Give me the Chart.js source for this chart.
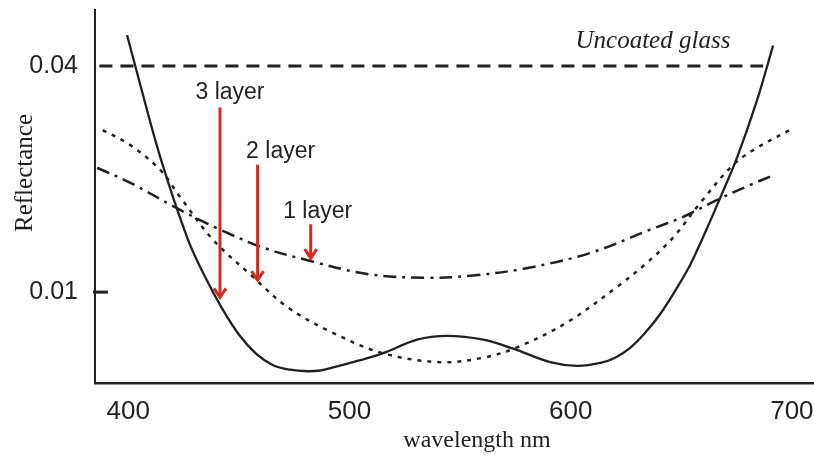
<!DOCTYPE html>
<html>
<head>
<meta charset="utf-8">
<script src="https://cdn.jsdelivr.net/npm/chart.js@4.4.1/dist/chart.umd.min.js"></script>
<style>
html, body { margin: 0; padding: 0; background: #fff; }
#wrap { width: 814px; height: 456px; }
</style>
</head>
<body>
<div id="wrap"><canvas id="c"></canvas></div>
<script>
// wavelength (nm) / reflectance readings
const wl3 = [399.5, 403.2, 414.5, 427.1, 434.8, 442.5, 450.2, 457.9, 465.5, 473.2, 480.9, 486.8, 492.7, 504, 515.3, 530.6, 544.2, 560.5, 574, 590.8, 603, 613.4, 620.1, 626.9, 633.7, 640.5, 647.3, 654, 660.8, 667.6, 675.3, 684.3, 691.5];
const r3  = [0.0441, 0.0400, 0.0279, 0.0169, 0.0120, 0.0078, 0.0043, 0.0018, 0.0003, -0.0003, -0.0005, -0.0004, 0.0000, 0.0009, 0.0019, 0.0037, 0.0042, 0.0037, 0.0025, 0.0007, 0.0002, 0.0006, 0.0013, 0.0026, 0.0046, 0.0071, 0.0102, 0.0136, 0.0179, 0.0225, 0.0279, 0.0355, 0.0427];

const wl2 = [388.5, 401, 414.5, 423.5, 438.5, 456.5, 472, 492.5, 515, 541, 560.5, 576, 598.5, 621, 634.5, 646.5, 658.5, 673.5, 684, 699];
const r2  = [0.0315, 0.0295, 0.0262, 0.0226, 0.0169, 0.0120, 0.0080, 0.0046, 0.0019, 0.0007, 0.0013, 0.0027, 0.0060, 0.0107, 0.0139, 0.0173, 0.0218, 0.0269, 0.0291, 0.0315];

const wl1 = [386, 401, 423.5, 441.5, 461, 481.5, 508, 535, 556, 580.5, 609, 636, 651, 666, 681, 692.5];
const r1  = [0.0265, 0.0245, 0.0209, 0.0183, 0.0159, 0.0142, 0.0124, 0.0119, 0.0122, 0.0132, 0.0152, 0.0183, 0.0200, 0.0222, 0.0242, 0.0256];

const wlGlass = [387, 687];
const rGlass  = [0.04, 0.04];

const xTicks = [400, 500, 600, 700];
const yTicks = [0.01, 0.04];

const arrowNames = ['3 layer', '2 layer', '1 layer'];
const arrowWl    = [441.5, 458.5, 482.5];
const arrowTop   = [0.0345, 0.0269, 0.0190];
const arrowTip   = [0.0093, 0.0116, 0.0145];

const INK = '#231f20';
const RED = '#d42a20';

function pts(xs, ys) {
    return xs.map((x, i) => ({x: x, y: ys[i]}));
}

// text offsets (px) of each arrow's label from the arrow top
const labelOff = [[10, -8], [23, -7], [7, -6]];

const extras = {
    id: 'extras',
    afterDatasetsDraw(chart) {
        const ctx = chart.ctx;
        const xs = chart.scales.x, ys = chart.scales.y;
        ctx.save();
        // arrows
        ctx.strokeStyle = RED;
        ctx.lineWidth = 3;
        ctx.lineCap = 'butt';
        for (let i = 0; i < arrowWl.length; i++) {
            const x = xs.getPixelForValue(arrowWl[i]);
            const y0 = ys.getPixelForValue(arrowTop[i]);
            const y1 = ys.getPixelForValue(arrowTip[i]);
            ctx.beginPath();
            ctx.moveTo(x, y0);
            ctx.lineTo(x, y1);
            ctx.stroke();
            ctx.beginPath();
            ctx.moveTo(x - 6, y1 - 9);
            ctx.lineTo(x, y1);
            ctx.lineTo(x + 6, y1 - 9);
            ctx.stroke();
            ctx.fillStyle = INK;
            ctx.font = '23px "Liberation Sans", Arial, sans-serif';
            ctx.textAlign = 'center';
            ctx.textBaseline = 'alphabetic';
            ctx.fillText(arrowNames[i], x + labelOff[i][0], y0 + labelOff[i][1]);
        }
        // uncoated glass label
        ctx.fillStyle = INK;
        ctx.font = 'italic 25px "Liberation Serif", "Times New Roman", serif';
        ctx.textAlign = 'center';
        ctx.fillText('Uncoated glass', xs.getPixelForValue(637.2), ys.getPixelForValue(0.0424));
        // inner tick at 0.01
        ctx.strokeStyle = INK;
        ctx.lineWidth = 3;
        const ty = ys.getPixelForValue(0.01);
        ctx.beginPath();
        ctx.moveTo(93, ty);
        ctx.lineTo(108, ty);
        ctx.stroke();
        // axis titles
        ctx.font = '24px "Liberation Serif", "Times New Roman", serif';
        ctx.fillText('wavelength nm', 477, 447);
        ctx.translate(32, 173);
        ctx.rotate(-Math.PI / 2);
        ctx.font = '25px "Liberation Serif", "Times New Roman", serif';
        ctx.fillText('Reflectance', 0, 0);
        ctx.restore();
    }
};

new Chart(document.getElementById('c'), {
    type: 'line',
    data: {
        datasets: [
            {label: '3 layer', data: pts(wl3, r3), borderColor: INK, borderWidth: 2.3},
            {label: '2 layer', data: pts(wl2, r2), borderColor: INK, borderWidth: 2.5, borderDash: [4, 6]},
            {label: '1 layer', data: pts(wl1, r1), borderColor: INK, borderWidth: 2.5, borderDash: [13, 6, 3, 6]},
            {label: 'Uncoated glass', data: pts(wlGlass, rGlass), borderColor: INK, borderWidth: 3, borderDash: [13, 8], tension: 0}
        ]
    },
    options: {
        animation: false,
        responsive: true,
        maintainAspectRatio: false,
        devicePixelRatio: 1,
        layout: {padding: {top: 10, right: 0, left: 0, bottom: 0}},
        elements: {point: {radius: 0}, line: {tension: 0.35, capBezierPoints: false}},
        plugins: {legend: {display: false}, tooltip: {enabled: false}},
        scales: {
            x: {
                type: 'linear',
                min: 385,
                max: 710,
                afterBuildTicks: (s) => { s.ticks = xTicks.map(v => ({value: v})); },
                afterFit: (s) => { s.height = 73; s.paddingLeft = 0; s.paddingRight = 0; },
                grid: {display: false, drawTicks: false},
                border: {display: true, color: INK, width: 2.5},
                ticks: {
                    padding: 13,
                    color: INK,
                    font: {family: '"Liberation Sans", Arial, sans-serif', size: 26},
                    maxRotation: 0,
                    autoSkip: false
                }
            },
            y: {
                min: -0.00206,
                max: 0.04743,
                afterBuildTicks: (s) => { s.ticks = yTicks.map(v => ({value: v})); },
                afterFit: (s) => { s.width = 95; s.paddingTop = 0; s.paddingBottom = 0; },
                grid: {display: false, drawTicks: false},
                border: {display: true, color: INK, width: 2},
                ticks: {
                    padding: 17,
                    color: INK,
                    font: {family: '"Liberation Sans", Arial, sans-serif', size: 25},
                    callback: (v) => v.toFixed(2)
                }
            }
        }
    },
    plugins: [extras]
});
</script>
</body>
</html>
